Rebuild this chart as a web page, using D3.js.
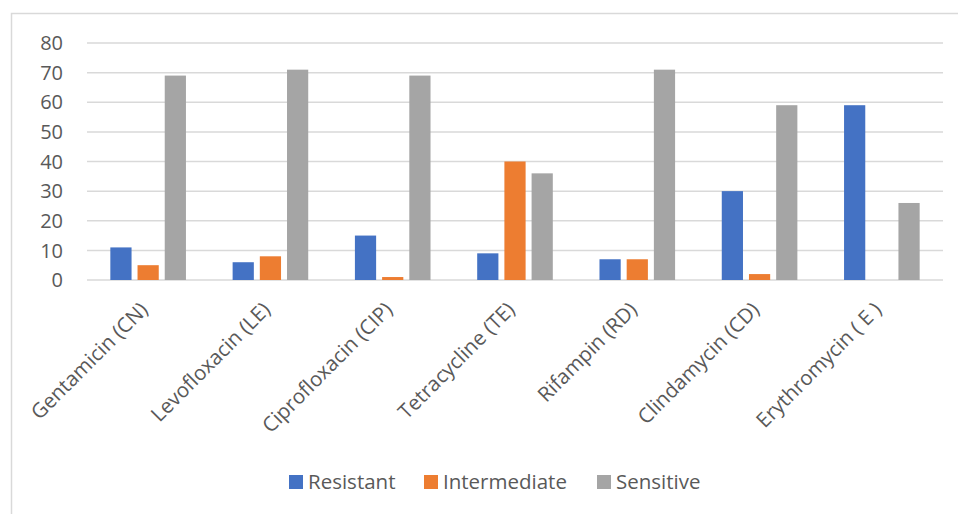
<!DOCTYPE html>
<html><head><meta charset="utf-8">
<script src="https://cdn.jsdelivr.net/npm/d3@7"></script>
<style>body{margin:0;background:#fff}svg{display:block}text{font-family:"Open Sans",sans-serif;fill:#595959}</style>
</head><body><svg id="c" width="958" height="514"></svg>
<script>
const categories = ["Gentamicin (CN)","Levofloxacin (LE)","Ciprofloxacin (CIP)","Tetracycline (TE)","Rifampin (RD)","Clindamycin (CD)","Erythromycin ( E )"];
const seriesNames = ["Resistant","Intermediate","Sensitive"];
const resistant = [11,6,15,9,7,30,59];
const intermediate = [5,8,1,40,7,2,0];
const sensitive = [69,71,69,36,71,59,26];
const yTicks = [0,10,20,30,40,50,60,70,80];
const colors = ["#4472C4","#ED7D31","#A5A5A5"];
const values = [resistant, intermediate, sensitive];

const svg = d3.select("#c");
svg.append("rect").attr("x",11.5).attr("y",13.5).attr("width",1000).attr("height",600)
  .attr("fill","none").attr("stroke","#d9d9d9").attr("stroke-width",1.5);

const L=87, R=943, T=43, B=280;
const x0 = d3.scaleBand().domain(categories).range([L,R]);
const x1 = d3.scaleBand().domain(seriesNames).range([0,x0.bandwidth()]).paddingInner(0.22).paddingOuter(0.858);
const y = d3.scaleLinear().domain([0,80]).range([B,T]);

svg.append("g").selectAll("line").data(yTicks).join("line")
  .attr("x1",L).attr("x2",R).attr("y1",d=>y(d)).attr("y2",d=>y(d))
  .attr("stroke","#d9d9d9").attr("stroke-width",1.5);

svg.append("g").selectAll("text").data(yTicks).join("text")
  .attr("x",63).attr("y",d=>y(d)).attr("dy","0.36em").attr("text-anchor","end")
  .attr("font-size",20).text(d=>d);

seriesNames.forEach((s,si)=>{
  svg.append("g").selectAll("rect").data(categories).join("rect")
    .attr("x",c=>x0(c)+x1(s)).attr("width",x1.bandwidth())
    .attr("y",(c,i)=>y(values[si][i])).attr("height",(c,i)=>B-y(values[si][i]))
    .attr("fill",colors[si]);
});

svg.append("g").selectAll("text").data(categories).join("text")
  .attr("text-anchor","end").attr("font-size",20.5)
  .attr("transform",c=>`translate(${x0(c)+x0.bandwidth()/2+1},${311}) rotate(-45)`)
  .text(c=>c);

const legendX = [289, 424, 597];
const lg = svg.append("g");
seriesNames.forEach((s,i)=>{
  lg.append("rect").attr("x",legendX[i]).attr("y",475).attr("width",14).attr("height",14).attr("fill",colors[i]);
  lg.append("text").attr("x",legendX[i]+19).attr("y",489).attr("font-size",20.5).text(s);
});
</script></body></html>
